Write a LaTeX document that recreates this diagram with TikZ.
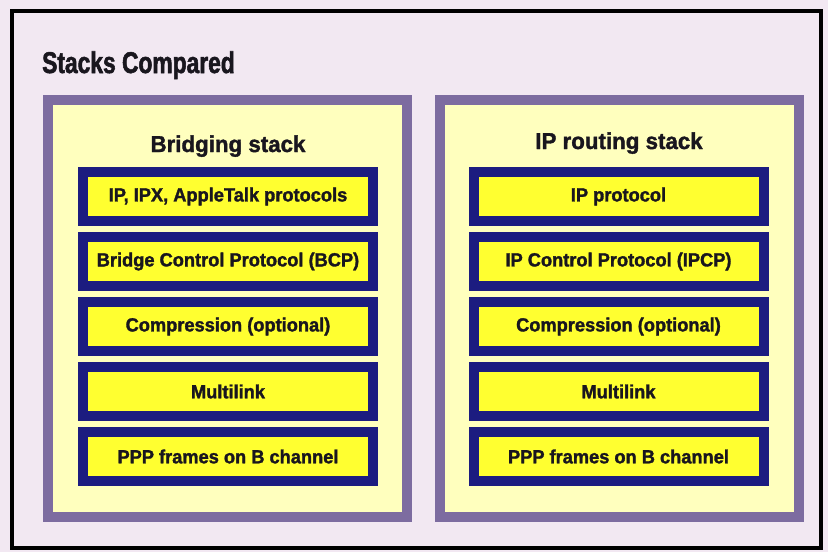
\documentclass[tikz,border=0pt]{standalone}
\usepackage{fontspec}
\setmainfont{Liberation Sans}
\newfontfamily\titlefont[FakeStretch=0.76,FakeBold=1.8]{Liberation Sans}
\newfontfamily\headfont[FakeStretch=0.97,FakeBold=1.5]{Liberation Sans}
\newfontfamily\layerfont[FakeStretch=0.96,FakeBold=1.6]{Liberation Sans}
\usetikzlibrary{positioning}
\definecolor{pagebg}{RGB}{242,232,242}
\definecolor{panelrim}{RGB}{125,108,160}
\definecolor{panelbg}{RGB}{255,255,190}
\definecolor{layerrim}{RGB}{28,28,128}
\definecolor{layerbg}{RGB}{255,255,48}
\definecolor{ink}{RGB}{25,22,30}

\tikzset{
  layerbox/.style={draw=layerrim, line width=10pt, fill=layerbg, text=ink,
    minimum width=290pt, minimum height=49pt, inner sep=0pt,
    font=\layerfont\bfseries\fontsize{19}{19}\selectfont},
  panelbox/.style={draw=panelrim, line width=10pt, fill=panelbg},
  headtext/.style={text=ink, anchor=base, inner sep=0pt,
    font=\headfont\bfseries\fontsize{23}{23}\selectfont}
}

\begin{document}
\begin{tikzpicture}[x=1pt,y=-1pt]

  \useasboundingbox (0,0) rectangle (828,552);
  \fill [pagebg] (0,0) rectangle (828,552);
  \draw [line width=4pt, black] (12,11) rectangle (821,548);

  % title
  \node (title) [anchor=base west, inner sep=0pt, text=ink,
    font=\titlefont\bfseries\fontsize{30}{30}\selectfont] at (42,73) {Stacks Compared};

  % the two panels
  \draw [panelbox] (48,100) rectangle (407,517);
  \draw [panelbox] (440,100) rectangle (799,517);

  \node (bhead) [headtext] at (228,152) {Bridging stack};
  \node (rhead) [headtext] at (619,149) {IP routing stack};

  % Bridging layers
  \foreach \t [count=\i] in {{IP, IPX, AppleTalk protocols},
      {Bridge Control Protocol (BCP)}, {Compression (optional)},
      {Multilink}, {PPP frames on B channel}}
    \node (b\i) [layerbox] at (228,{131.5+65*\i}) {\t};

  % IP routing layers
  \foreach \t [count=\i] in {{IP protocol},
      {IP Control Protocol (IPCP)}, {Compression (optional)},
      {Multilink}, {PPP frames on B channel}}
    \node (r\i) [layerbox] at (618.5,{131.5+65*\i}) {\t};

\end{tikzpicture}
\end{document}
